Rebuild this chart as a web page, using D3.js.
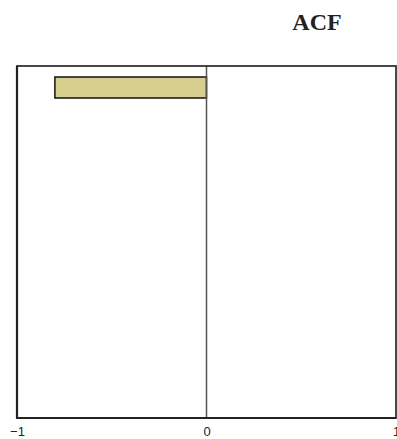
<!DOCTYPE html>
<html>
<head>
<meta charset="utf-8">
<script src="https://cdn.jsdelivr.net/npm/d3@7"></script>
<style>
  body { margin: 0; background: #fff; }
  svg { display: block; }
</style>
</head>
<body>
<div id="chart"></div>
<script>
// lag slots shown on the y axis, and the ACF values that are visible
var lagSlots = [1, 2, 3, 4, 5, 6, 7, 8];
var lags = [1];
var acfValues = [-0.8];
var xTicks = [-1, 0, 1];

var width = 397, height = 439;
var plot = { left: 17, right: 396, top: 66, bottom: 418 };

var svg = d3.select("#chart").append("svg")
	.attr("width", width)
	.attr("height", height);

var x = d3.scaleLinear().domain([-1, 1]).range([plot.left, plot.right]);
var y = d3.scaleBand()
	.domain(lagSlots)
	.range([plot.top, plot.bottom])
	.paddingInner(0.5)
	.paddingOuter(0.25);

// title
svg.append("text")
	.attr("x", 317)
	.attr("y", 30)
	.attr("text-anchor", "middle")
	.attr("font-family", "'Liberation Serif', 'Times New Roman', serif")
	.attr("font-weight", "bold")
	.attr("font-size", 24)
	.attr("fill", "#222")
	.text("ACF");

// bars
svg.append("g")
	.selectAll("rect")
	.data(lags.map(function (l, i) { return { lag: l, value: acfValues[i] }; }))
	.join("rect")
	.attr("x", function (d) { return x(Math.min(0, d.value)); })
	.attr("y", function (d) { return y(d.lag); })
	.attr("width", function (d) { return Math.abs(x(d.value) - x(0)); })
	.attr("height", y.bandwidth() - 1)
	.attr("fill", "#d5ce8d")
	.attr("stroke", "#111")
	.attr("stroke-width", 1.5);

// zero line
svg.append("line")
	.attr("x1", x(0)).attr("x2", x(0))
	.attr("y1", plot.top).attr("y2", plot.bottom)
	.attr("stroke", "#555")
	.attr("stroke-width", 1.5);

// frame
svg.append("rect")
	.attr("x", plot.left)
	.attr("y", plot.top)
	.attr("width", plot.right - plot.left)
	.attr("height", plot.bottom - plot.top)
	.attr("fill", "none")
	.attr("stroke", "#333")
	.attr("stroke-width", 1.8);

// left and bottom edges a bit heavier, as in the original
svg.append("path")
	.attr("d", "M" + plot.left + "," + plot.top + "V" + plot.bottom + "H" + plot.right)
	.attr("fill", "none")
	.attr("stroke", "#222")
	.attr("stroke-width", 2.2);

// x axis labels
var xAxis = d3.axisBottom(x)
	.tickValues(xTicks)
	.tickSize(0)
	.tickPadding(9)
	.tickFormat(d3.format("d"));

var axisG = svg.append("g")
	.attr("transform", "translate(0," + plot.bottom + ")")
	.attr("font-family", "'Liberation Sans', Arial, sans-serif")
	.attr("font-size", 13)
	.call(xAxis);
axisG.select(".domain").remove();
axisG.selectAll("text")
	.style("font-size", "13px")
	.style("font-family", "'Liberation Sans', Arial, sans-serif")
	.attr("fill", "#222");
</script>
</body>
</html>
